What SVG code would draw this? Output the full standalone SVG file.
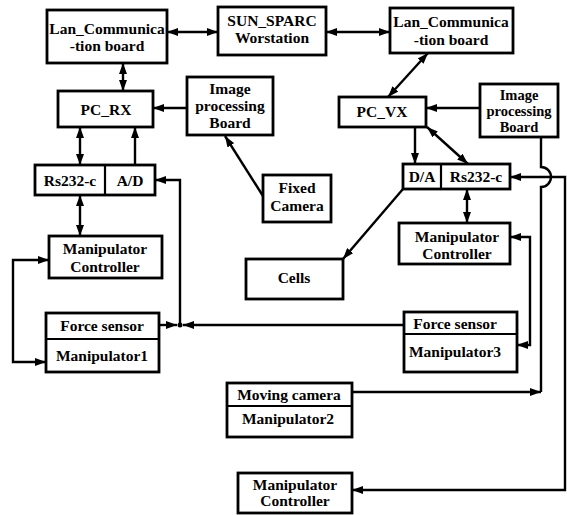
<svg xmlns="http://www.w3.org/2000/svg" width="567" height="515" viewBox="0 0 567 515">
<style>
.b{fill:#fff;stroke:#000;stroke-width:2.8}
.d{stroke:#000;stroke-width:2.2}
.t{font-family:"Liberation Serif","Times New Roman",serif;font-weight:bold;font-size:15.5px;fill:#000;text-anchor:middle}
.sm{font-size:14.5px}
.c{fill:none;stroke:#000;stroke-width:2.4}
.e{marker-end:url(#ah)}
.s{marker-start:url(#ah);marker-end:url(#ah)}
</style>
<defs>
<marker id="ah" viewBox="0 0 11 8" refX="11" refY="4" markerWidth="11" markerHeight="8" markerUnits="userSpaceOnUse" orient="auto-start-reverse">
<path d="M0,0 L11,4 L0,8 z" fill="#000"/>
</marker>
</defs>
<rect width="567" height="515" fill="#fff"/>

<g id="connectors">
<line class="c s" x1="167" y1="32" x2="218" y2="32"/>
<line class="c s" x1="326" y1="32" x2="390" y2="32"/>
<line class="c s" x1="123" y1="63" x2="123" y2="91"/>
<line class="c e" x1="187" y1="108" x2="153" y2="108"/>
<line class="c s" x1="80" y1="127" x2="80" y2="165"/>
<line class="c e" x1="135" y1="165" x2="135" y2="127"/>
<line class="c s" x1="80" y1="195" x2="80" y2="236"/>
<line class="c e" x1="263" y1="196" x2="225" y2="136"/>
<line class="c s" x1="428" y1="53" x2="388" y2="97"/>
<line class="c e" x1="480" y1="108" x2="426" y2="108"/>
<line class="c e" x1="415" y1="127" x2="415" y2="164"/>
<line class="c s" x1="427" y1="127" x2="468" y2="164"/>
<line class="c e" x1="403" y1="189" x2="343" y2="259"/>
<line class="c s" x1="467" y1="189" x2="467" y2="223"/>
<path class="c s" d="M49,260 H13 V362 H46"/>
<line class="c e" x1="159" y1="325" x2="177" y2="325"/>
<line class="c e" x1="404" y1="325" x2="183" y2="325"/>
<path class="c e" d="M180,325 V180 H155"/>
<circle cx="180" cy="325" r="2.5" fill="#000"/>
<path class="c s" d="M510,237 H530 V345 H517"/>
<line class="c e" x1="352" y1="392" x2="541" y2="392"/>
<path class="c" d="M541,137 V167 A10,10 0 0 1 541,187 V392"/>
<path class="c s" d="M510,177 H565 V490 H352"/>
</g>

<g id="lan_left"><rect class="b" x="47" y="10" width="120" height="53"/>
<text class="t" x="107" y="34">Lan_Communica</text><text class="t" x="107" y="51">-tion board</text></g>

<g id="sun"><rect class="b" x="218" y="7" width="108" height="48"/>
<text class="t" x="272" y="26">SUN_SPARC</text><text class="t" x="272" y="43">Worstation</text></g>

<g id="lan_right"><rect class="b" x="390" y="8" width="123" height="45"/>
<text class="t" x="451" y="27">Lan_Communica</text><text class="t" x="451" y="45">-tion board</text></g>

<g id="pc_rx"><rect class="b" x="58" y="91" width="95" height="36"/>
<text class="t" x="106" y="115">PC_RX</text></g>

<g id="ipb_left"><rect class="b" x="187" y="77" width="86" height="58"/>
<text class="t" x="230" y="94">Image</text><text class="t" x="230" y="111">processing</text><text class="t" x="230" y="128">Board</text></g>

<g id="rs232_ad"><rect class="b" x="35" y="165" width="120" height="30"/>
<line class="d" x1="105" y1="165" x2="105" y2="195"/>
<text class="t" x="70" y="186">Rs232-c</text><text class="t" x="130" y="186">A/D</text></g>

<g id="mc_left"><rect class="b" x="49" y="236" width="113" height="42"/>
<text class="t" x="105" y="254">Manipulator</text><text class="t" x="105" y="272">Controller</text></g>

<g id="manip1"><rect class="b" x="46" y="313" width="113" height="59"/>
<line class="d" x1="46" y1="339" x2="159" y2="339"/>
<text class="t" x="102" y="331">Force sensor</text><text class="t" x="102" y="361">Manipulator1</text></g>

<g id="fixed_camera"><rect class="b" x="263" y="175" width="68" height="47"/>
<text class="t" x="297" y="193">Fixed</text><text class="t" x="297" y="211">Camera</text></g>

<g id="cells"><rect class="b" x="246" y="259" width="97" height="40"/>
<text class="t" x="294" y="283">Cells</text></g>

<g id="pc_vx"><rect class="b" x="339" y="97" width="87" height="30"/>
<text class="t" x="382" y="117">PC_VX</text></g>

<g id="ipb_right"><rect class="b" x="480" y="84" width="78" height="53"/>
<text class="t sm" x="519" y="100">Image</text><text class="t sm" x="519" y="116">processing</text><text class="t sm" x="519" y="132">Board</text></g>

<g id="da_rs232"><rect class="b" x="403" y="164" width="107" height="25"/>
<line class="d" x1="441" y1="164" x2="441" y2="189"/>
<text class="t" x="422" y="182">D/A</text><text class="t" x="476" y="182">Rs232-c</text></g>

<g id="mc_right"><rect class="b" x="399" y="223" width="111" height="41"/>
<text class="t" x="457" y="242">Manipulator</text><text class="t" x="457" y="259">Controller</text></g>

<g id="manip3"><rect class="b" x="404" y="312" width="113" height="60"/>
<line class="d" x1="404" y1="334" x2="517" y2="334"/>
<text class="t" x="455" y="329">Force sensor</text><text class="t" x="455" y="357">Manipulator3</text></g>

<g id="manip2"><rect class="b" x="227" y="383" width="125" height="54"/>
<line class="d" x1="227" y1="406" x2="352" y2="406"/>
<text class="t" x="289" y="400">Moving camera</text><text class="t" x="288" y="424">Manipulator2</text></g>

<g id="mc_bottom"><rect class="b" x="238" y="473" width="114" height="40"/>
<text class="t" x="295" y="490">Manipulator</text><text class="t" x="295" y="506">Controller</text></g>
</svg>
